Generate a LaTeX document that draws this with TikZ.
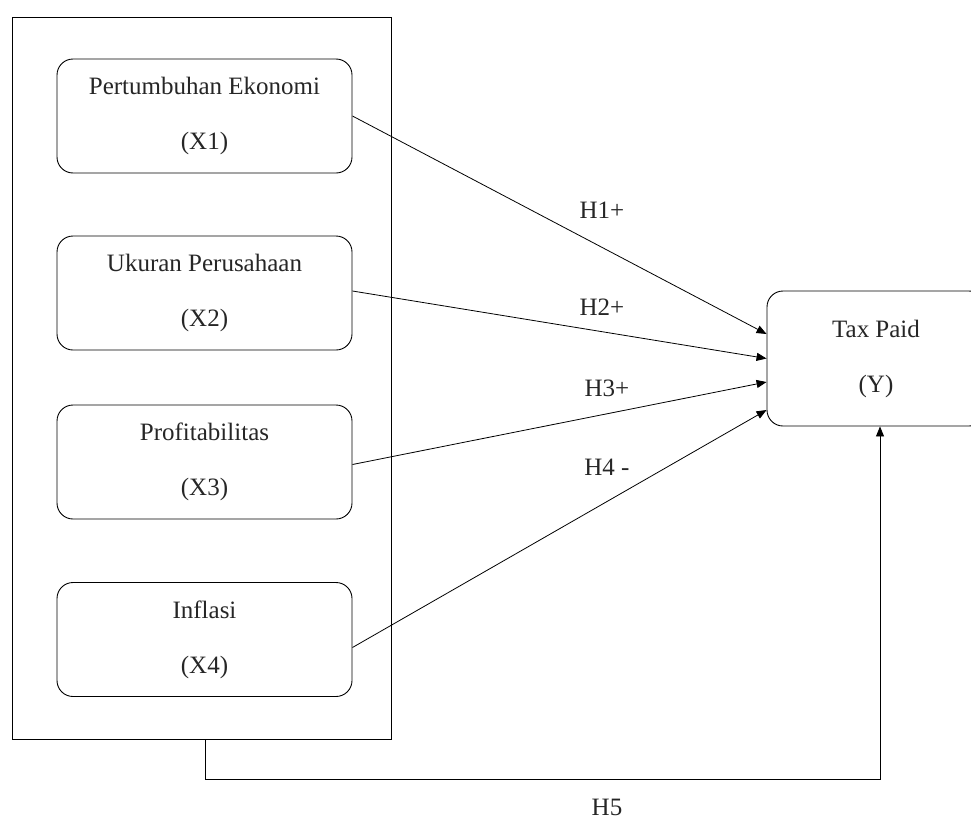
\documentclass[tikz,border=0pt]{standalone}
\usepackage{fontspec}
\setmainfont{Liberation Serif}
\usetikzlibrary{arrows.meta,calc}
\begin{document}
\begin{tikzpicture}[x=1pt,y=-1pt,
  every node/.style={font=\fontsize{25}{55}\selectfont, text=black!85},
  varbox/.style={draw, line width=0.9pt, rounded corners=16pt, minimum width=295pt, minimum height=114pt, align=center, inner sep=0pt},
  line/.style={line width=0.8pt, draw=black!85},
  arr/.style={-{Triangle[length=10pt,width=8pt]}},
  lbl/.style={inner sep=0pt}
]
\useasboundingbox (0,0) rectangle (971,819);
\node[draw, line width=0.9pt, minimum width=379pt, minimum height=722pt, inner sep=0pt] (outer) at (201.5,378) {};
\node[varbox] (x1) at (204.5,116) {Pertumbuhan Ekonomi\\(X1)};
\node[varbox] (x2) at (204.5,293) {Ukuran Perusahaan\\(X2)};
\node[varbox] (x3) at (204.5,462) {Profitabilitas\\(X3)};
\node[varbox] (x4) at (204.5,639.5) {Inflasi\\(X4)};
\node[varbox, minimum width=218pt, minimum height=135pt] (y) at (876,358.5) {Tax Paid\\(Y)};
\draw[arr, line width=0.8pt] (x1.east) -- ([yshift=24.5pt]y.west);
\draw[arr, line width=0.8pt] ([yshift=2pt]x2.east) -- ([yshift=0pt]y.west);
\draw[arr, line width=0.8pt] ([yshift=-2.5pt]x3.east) -- ([yshift=-23.5pt]y.west);
\draw[arr, line width=0.8pt] ([yshift=-8pt]x4.east) -- ([yshift=-51.5pt]y.west);
\coordinate (h5a) at (205,779);
\coordinate (h5b) at (880,779);
\draw[arr, line width=0.8pt] (outer.south -| h5a) -- (h5a) -- (h5b) -- (y.south -| h5b);
\node[lbl] (l1) at (602,210) {H1+};
\node[lbl] (l2) at (602,307) {H2+};
\node[lbl] (l3) at (607,388) {H3+};
\node[lbl] (l4) at (607,467) {H4 -};
\node[lbl] (l5) at (607,807) {H5};
\end{tikzpicture}
\end{document}
